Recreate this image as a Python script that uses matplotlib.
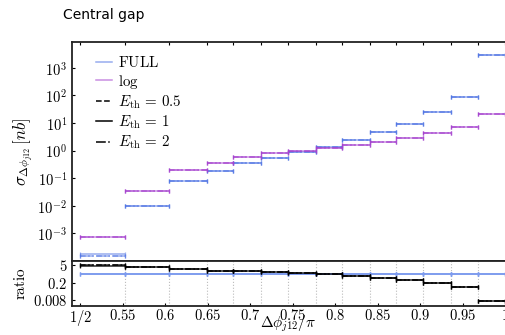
import numpy as np
import matplotlib
matplotlib.use("Agg")
import matplotlib.pyplot as plt
from matplotlib.ticker import FixedLocator, FixedFormatter, NullLocator
from matplotlib.lines import Line2D

plt.rcParams['mathtext.fontset'] = 'cm'
plt.rcParams['font.family'] = ['DejaVu Serif']

# ---- data ----
bin_edges = [0.5, 0.553, 0.604, 0.649, 0.680, 0.713, 0.744, 0.777, 0.808,
             0.841, 0.872, 0.904, 0.936, 0.968, 1.0]
full_e05 = [1.48e-4, 0.0099, 0.080, 0.180, 0.343, 0.548, 0.86, 1.37, 2.40, 4.58, 9.4, 24.4, 85.3, 2925]
full_e1 = [1.86e-4, 0.0099, 0.080, 0.180, 0.343, 0.548, 0.86, 1.37, 2.40, 4.58, 9.4, 24.4, 85.3, 2925]
full_e2 = [1.48e-4, 0.0099, 0.080, 0.180, 0.343, 0.548, 0.86, 1.37, 2.40, 4.58, 9.4, 24.4, 85.3, 2925]
log_e05 = [7.43e-4, 0.0348, 0.191, 0.343, 0.595, 0.79, 0.98, 1.26, 1.58, 2.09, 2.92, 4.32, 7.31, 21.1]
log_e1 = [7.43e-4, 0.0348, 0.191, 0.343, 0.595, 0.79, 0.98, 1.26, 1.58, 2.09, 2.92, 4.32, 7.31, 21.1]
log_e2 = [7.43e-4, 0.0348, 0.191, 0.343, 0.595, 0.79, 0.98, 1.26, 1.58, 2.09, 2.92, 4.32, 7.31, 21.1]

x_tick_values = [0.5, 0.55, 0.6, 0.65, 0.7, 0.75, 0.8, 0.85, 0.9, 0.95, 1.0]
x_tick_labels = ['1/2', '0.55', '0.6', '0.65', '0.7', '0.75', '0.8', '0.85', '0.9', '0.95', '1']
y_tick_values = [1e-3, 1e-2, 1e-1, 1e0, 1e1, 1e2, 1e3]
y_tick_labels = ['10^{-3}', '10^{-2}', '10^{-1}', '10^{0}', '10^{1}', '10^{2}', '10^{3}']
r_tick_values = [5, 0.2, 0.008]
r_tick_labels = ['5', '0.2', '0.008']
eth_labels = ['0.5', '1', '2']

BLUE = '#5276e4'
PURPLE = '#a643cf'
styles = ['--', '-', '-.']

fig = plt.figure(figsize=(5.05, 3.35), dpi=100)
L, W = 72 / 505, 433 / 505
ax1 = fig.add_axes([L, 1 - 261 / 335, W, (261 - 41.7) / 335])
ax2 = fig.add_axes([L, 1 - 305.7 / 335, W, 44.7 / 335])

edges = np.array(bin_edges)
lo, hi = edges[:-1], edges[1:]


def seg(ax, vals, color, ls, alpha, lw=1.1):
    vals = np.asarray(vals)
    ax.hlines(vals, lo, hi, colors=color, linestyles=ls, lw=lw, alpha=alpha, zorder=3)
    ax.plot(lo, vals, ls='none', marker='|', ms=3, mew=0.9, color=color, alpha=alpha, zorder=3)
    ax.plot(hi, vals, ls='none', marker='|', ms=3, mew=0.9, color=color, alpha=alpha, zorder=3)


fulls = [full_e05, full_e1, full_e2]
logs = [log_e05, log_e1, log_e2]
for f, ls in zip(fulls, styles):
    seg(ax1, f, BLUE, ls, 0.6)
for g, ls in zip(logs, styles):
    seg(ax1, g, PURPLE, ls, 0.6)

for f in fulls:
    seg(ax2, np.asarray(f) / np.asarray(f), '#7d9bee', '-', 0.8, lw=1.2)
for f, g, ls in zip(fulls, logs, styles):
    seg(ax2, np.asarray(g) / np.asarray(f), 'black', ls, 0.85)

for ax in (ax1, ax2):
    ax.set_xlim(0.49, 1.0)
    ax.xaxis.set_minor_locator(FixedLocator(bin_edges))
    ax.grid(True, which='minor', axis='x', ls=':', color='#bbbbbb', lw=0.8)
    ax.grid(False, which='major')
    ax.tick_params(which='minor', length=0)
    ax.tick_params(which='major', direction='in', length=2.5, width=0.8, labelsize=10.5)
    ax.spines['right'].set_visible(False)
    for s in ('left', 'top', 'bottom'):
        ax.spines[s].set_linewidth(1.3)
        ax.spines[s].set_color('#222222')

ax1.set_yscale('log')
ax1.set_ylim(1e-4, 10 ** 3.95)
ax1.yaxis.set_major_locator(FixedLocator(y_tick_values))
ax1.yaxis.set_major_formatter(FixedFormatter(['$' + t + '$' for t in y_tick_labels]))
ax1.yaxis.set_minor_locator(NullLocator())
ax1.xaxis.set_major_locator(FixedLocator(bin_edges))
ax1.tick_params(axis='x', which='major', top=True, bottom=False, labelbottom=False)
ax1.set_ylabel(r'$\sigma_{\Delta\phi_{j12}}\,[nb]$', fontsize=12, labelpad=1)

ax2.set_yscale('log')
ax2.set_ylim(0.0029, 11)
ax2.yaxis.set_major_locator(FixedLocator(r_tick_values))
ax2.yaxis.set_major_formatter(FixedFormatter(['$' + t + '$' for t in r_tick_labels]))
ax2.yaxis.set_minor_locator(NullLocator())
ax2.xaxis.set_major_locator(FixedLocator(x_tick_values))
ax2.xaxis.set_major_formatter(FixedFormatter(['$' + t + '$' for t in x_tick_labels]))
ax2.tick_params(axis='x', which='major', pad=1.5)
ax2.set_ylabel(r'$\mathrm{ratio}$', fontsize=11, labelpad=3)
ax2.set_xlabel(r'$\Delta\phi_{j12}/\pi$', fontsize=11, labelpad=-10)

# legend
handles = [Line2D([], [], color=BLUE, alpha=0.6, lw=1.1),
           Line2D([], [], color=PURPLE, alpha=0.6, lw=1.1)]
labels = [r'$\mathrm{FULL}$', r'$\mathrm{log}$']
for e, ls in zip(eth_labels, styles):
    handles.append(Line2D([], [], color='black', ls=ls, lw=1.1))
    labels.append(r'$E_{\mathrm{th}}\,=\,' + e + '$')
ax1.legend(handles, labels, loc='upper left', bbox_to_anchor=(0.055, 0.94),
           frameon=False, fontsize=10.8, handlelength=1.1, handletextpad=0.4,
           labelspacing=0.18, borderaxespad=0, borderpad=0)

fig.text(63 / 505, 1 - 15 / 335, 'Central gap', fontsize=10, family='DejaVu Sans',
         ha='left', va='center')

fig.savefig('out.png', dpi=100)
